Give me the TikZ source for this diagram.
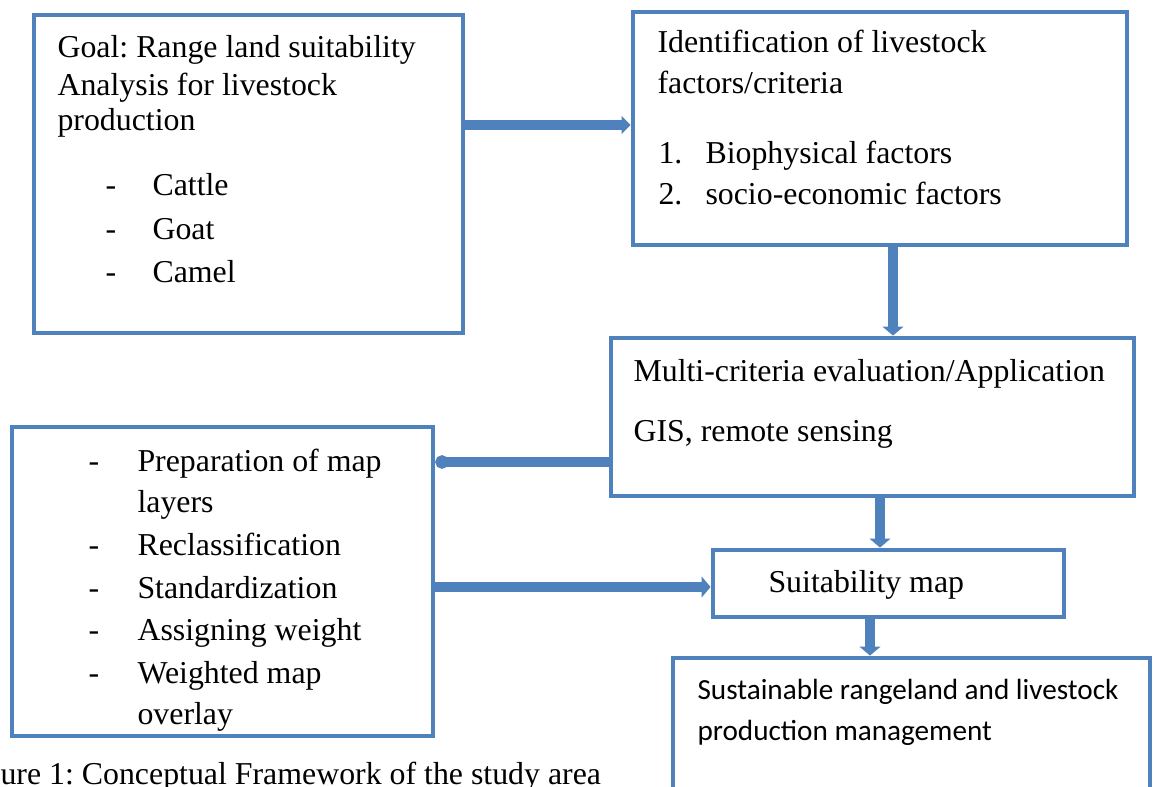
\documentclass[tikz,border=0pt]{standalone}
\usepackage{fontspec}
\setmainfont{Liberation Serif}
\newfontfamily\calibrifont{Carlito}
\usetikzlibrary{arrows.meta,fit}
\frenchspacing

\definecolor{boxblue}{RGB}{79,129,189}

\begin{document}
\begin{tikzpicture}[x=0.3768pt, y=-0.3768pt,
    box/.style={draw=boxblue, line width=1.8pt, inner sep=0pt},
    txt/.style={anchor=base west, inner sep=0pt, yshift=-0.8pt, font=\fontsize{12}{14}\selectfont},
    sans/.style={anchor=base west, inner sep=0pt, yshift=-0.8pt, font=\calibrifont\fontsize{11}{13}\selectfont},
    flow/.style={draw=boxblue, line width=3.8pt},
    tip/.style={-{Triangle[width=7.8pt, length=3.4pt]}}]
			\useasboundingbox (0,0) rectangle (1155,787);

			% boxes
			\node [box, fit={(34,15) (463,333)}] (goal) {};
			\node [box, fit={(633,12) (1127,245)}] (ident) {};
			\node [box, fit={(611,338) (1134,496)}] (mce) {};
			\node [box, fit={(12,427) (433,736)}] (steps) {};
			\node [box, fit={(713,550) (1064,617)}] (smap) {};
			\node [box, fit={(673,658) (1150,812)}] (manage) {};

			% goal box text
			\node [txt] (g1) at (57,55) {Goal: Range land suitability};
			\node [txt] (g2) at (57,93) {Analysis for livestock};
			\node [txt] (g3) at (57,128) {production};
			\node [txt] (gd1) at (105,193) {-};
			\node [txt] (gd2) at (105,237) {-};
			\node [txt] (gd3) at (105,280) {-};
			\node [txt] (cattle) at (152,193) {Cattle};
			\node [txt] (goat) at (152,237) {Goat};
			\node [txt] (camel) at (152,280) {Camel};

			% identification box text
			\node [txt] (i1) at (657,50) {Identification of livestock};
			\node [txt] (i2) at (657,91) {factors/criteria};
			\node [txt] (n1) at (658,161) {1.};
			\node [txt] (n2) at (658,202) {2.};
			\node [txt] (bio) at (705,161) {Biophysical factors};
			\node [txt] (socio) at (705,202) {socio-economic factors};

			% evaluation box text
			\node [txt] (m1) at (633,379) {Multi-criteria evaluation/Application};
			\node [txt] (m2) at (633,439) {GIS, remote sensing};

			% steps box text
			\node [txt] (sd1) at (88,469) {-};
			\node [txt] (sd2) at (88,553) {-};
			\node [txt] (sd3) at (88,596) {-};
			\node [txt] (sd4) at (88,638) {-};
			\node [txt] (sd5) at (88,681) {-};
			\node [txt] (s1) at (137,469) {Preparation of map};
			\node [txt] (s1b) at (137,510) {layers};
			\node [txt] (s2) at (137,553) {Reclassification};
			\node [txt] (s3) at (137,596) {Standardization};
			\node [txt] (s4) at (137,638) {Assigning weight};
			\node [txt] (s5) at (137,681) {Weighted map};
			\node [txt] (s5b) at (137,722) {overlay};

			% map and management text
			\node [txt] (sm) at (768,590) {Suitability map};
			\node [sans] (u1) at (697,697) {Sustainable rangeland and livestock};
			\node [sans] (u2) at (697,738) {production management};

			% caption
			\node [txt] (caption) at (0,782) {ure 1: Conceptual Framework of the study area};

			% arrows between boxes
			\draw [flow, -{Triangle[width=6.6pt, length=3.4pt]}] (goal.east |- 0,125) -- (ident.west |- 0,125);
			\draw [flow, tip] (ident.south -| 893,0) -- (mce.north -| 893,0);
			\draw [flow, -{Circle[length=5pt]}] (mce.west |- 0,462) -- (steps.east |- 0,462);
			\draw [flow, tip] (steps.east |- 0,587) -- (smap.west |- 0,587);
			\draw [flow, tip] (mce.south -| 880,0) -- (smap.north -| 880,0);
			\draw [flow, tip] (smap.south -| 870,0) -- (manage.north -| 870,0);

		\end{tikzpicture}
\end{document}
